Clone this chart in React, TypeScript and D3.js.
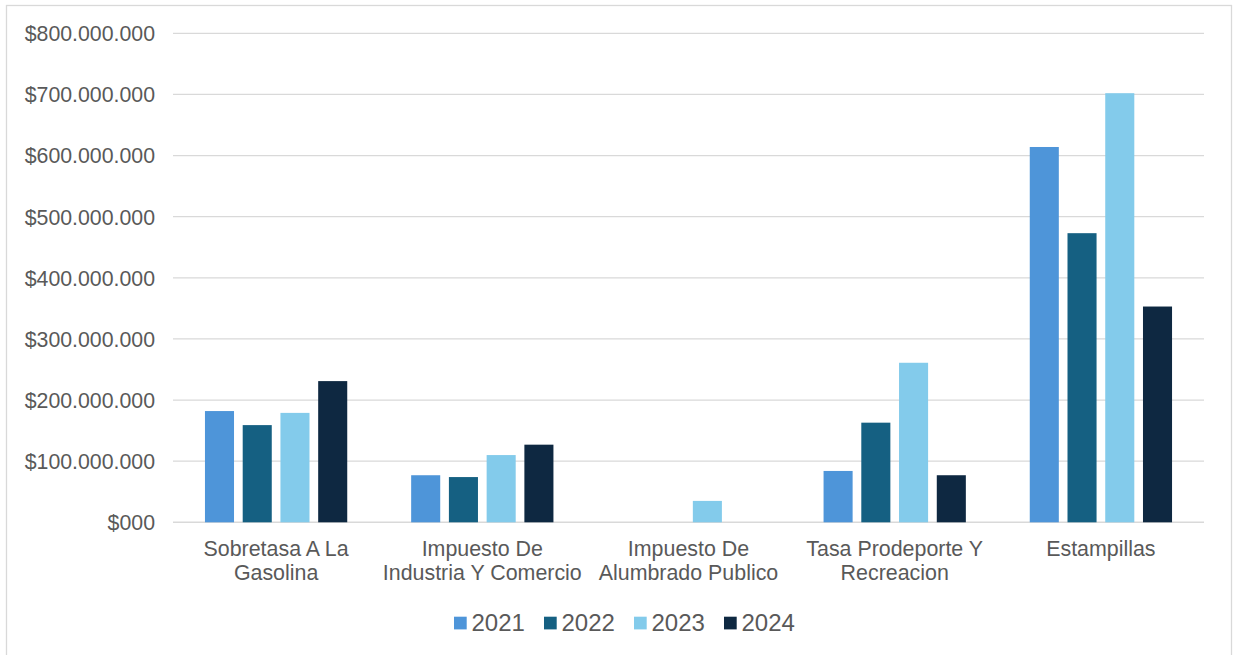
import React from "react";
import * as d3 from "d3";

const categories: string[][] = [
  ["Sobretasa A La", "Gasolina"],
  ["Impuesto De", "Industria Y Comercio"],
  ["Impuesto De", "Alumbrado Publico"],
  ["Tasa Prodeporte Y", "Recreacion"],
  ["Estampillas"],
];
const seriesNames = ["2021", "2022", "2023", "2024"];
const seriesColors = ["#4E95D9", "#156082", "#83CBEB", "#0E2841"];
const values2021 = [182e6, 77e6, 0, 84e6, 614e6];
const values2022 = [159e6, 74e6, 0, 163e6, 473e6];
const values2023 = [179e6, 110e6, 35e6, 261e6, 702e6];
const values2024 = [231e6, 127e6, 0, 77e6, 353e6];
const seriesValues = [values2021, values2022, values2023, values2024];
const yTicks = [0, 100e6, 200e6, 300e6, 400e6, 500e6, 600e6, 700e6, 800e6];

const W = 1233;
const H = 655;
const left = 173;
const right = 1204;
const top = 33.3;
const bottom = 522.3;
const font = "'Liberation Sans', Arial, sans-serif";
const textColor = "#595959";

function fmt(v: number): string {
  if (v === 0) return "$000";
  const s = d3.format(",")(v).replace(/,/g, ".");
  return "$" + s;
}

export default function App() {
  const y = d3.scaleLinear().domain([0, 800e6]).range([bottom, top]);
  const x0 = d3
    .scaleBand<number>()
    .domain(categories.map((_, i) => i))
    .range([left, right])
    .paddingInner(0.31)
    .paddingOuter(0.155);
  const x1 = d3
    .scaleBand<number>()
    .domain(seriesNames.map((_, i) => i))
    .range([0, x0.bandwidth()])
    .paddingInner(0.23)
    .paddingOuter(0);

  const legendStart = 454;
  const legendStep = 90;

  return (
    <svg
      width={W}
      height={H}
      style={{ position: "absolute", left: 0, top: 0, background: "#fff" }}
      fontFamily={font}
    >
      <rect x={6.5} y={5.5} width={1225} height={700} fill="none" stroke="#d9d9d9" strokeWidth={1.3} />
      {yTicks.map((t) => (
        <g key={t}>
          <line
            x1={left}
            x2={right}
            y1={y(t)}
            y2={y(t)}
            stroke="#d9d9d9"
            strokeWidth={t === 0 ? 1.6 : 1.3}
          />
          <text
            x={155}
            y={y(t)}
            dy="0.37em"
            textAnchor="end"
            fontSize={21.3}
            fill={textColor}
          >
            {fmt(t)}
          </text>
        </g>
      ))}
      {categories.map((cat, ci) => (
        <g key={ci} transform={`translate(${x0(ci)},0)`}>
          {seriesValues.map((vals, si) =>
            vals[ci] > 0 ? (
              <rect
                key={si}
                x={x1(si)}
                y={y(vals[ci])}
                width={x1.bandwidth()}
                height={y(0) - y(vals[ci])}
                fill={seriesColors[si]}
              />
            ) : null
          )}
        </g>
      ))}
      {categories.map((cat, ci) => (
        <text
          key={"l" + ci}
          x={(x0(ci) as number) + x0.bandwidth() / 2}
          y={556}
          textAnchor="middle"
          fontSize={21.4}
          fill={textColor}
        >
          {cat.map((line, li) => (
            <tspan key={li} x={(x0(ci) as number) + x0.bandwidth() / 2} dy={li === 0 ? 0 : 24}>
              {line}
            </tspan>
          ))}
        </text>
      ))}
      {seriesNames.map((name, si) => (
        <g key={name} transform={`translate(${legendStart + si * legendStep},0)`}>
          <rect x={0} y={616.7} width={12.7} height={12.7} fill={seriesColors[si]} />
          <text x={17.5} y={631} fontSize={24} fill={textColor}>
            {name}
          </text>
        </g>
      ))}
    </svg>
  );
}
